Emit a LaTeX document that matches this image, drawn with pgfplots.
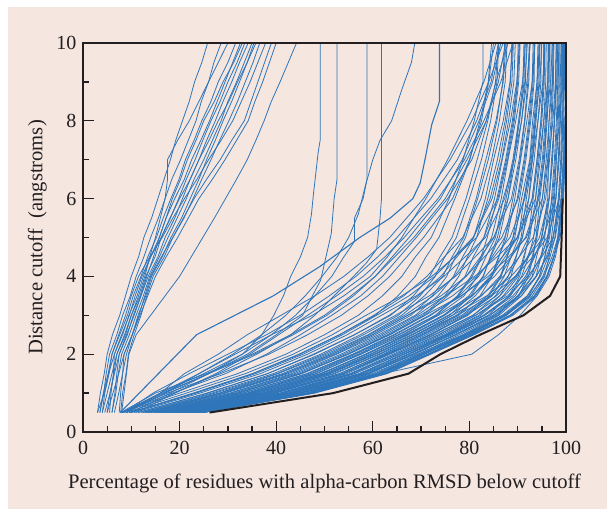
\documentclass[border=0pt]{standalone}
\usepackage{fontspec}
\setmainfont{Liberation Serif}
\usepackage{pgfplots}
\usepackage{pgfplotstable}
\pgfplotsset{compat=1.18}

\definecolor{bgpink}{RGB}{245,230,224}
\definecolor{cblue}{RGB}{46,117,186}
\definecolor{axblack}{RGB}{35,31,32}
\pgfplotsset{gdt/.style={cblue, solid, line width=0.8pt, no marks}}

% first row: distance cutoffs; each further row: one model (percent below cutoff)
\pgfplotstableread{
0.5 1 1.5 2 2.5 3 3.5 4 4.5 5 6 7 8 9 10
25.0 48.0 63.0 72.0 81.0 89.0 94.0 96.5 97.8 98.6 99.3 99.7 99.9 100 100
24.5 47.6 61.8 71.4 80.1 87.6 93.0 95.6 96.5 97.0 97.9 98.6 98.8 99.2 99.2
24.0 46.3 61.1 70.2 79.1 87.1 92.5 95.4 97.1 98.3 99.3 99.7 99.9 100 100
23.5 45.2 60.5 69.3 78.6 86.1 90.8 93.8 94.8 95.6 96.5 97.0 97.6 98.1 98.3
23.0 44.6 59.3 68.4 77.3 85.2 90.7 93.9 95.9 97.3 98.6 99.1 99.3 99.5 99.5
22.5 43.5 58.8 67.5 76.0 84.2 89.5 91.9 93.0 94.0 95.1 96.2 96.5 97.2 97.4
21.9 43.0 57.4 66.6 75.4 83.2 89.0 92.5 94.7 96.4 97.9 98.4 98.8 99.0 99.0
21.4 42.4 56.2 65.7 74.8 82.3 87.0 90.1 91.2 92.5 93.7 94.4 95.4 96.2 96.6
20.9 41.3 55.6 64.8 73.6 81.3 87.3 91.0 93.4 95.4 97.2 97.8 98.2 98.4 98.5
20.4 40.8 54.6 63.5 72.6 80.8 85.4 88.0 89.6 91.0 92.3 93.0 94.2 95.2 95.6
19.9 39.6 53.7 63.0 71.7 79.4 85.6 89.5 92.2 94.5 96.5 97.2 97.6 97.9 98.0
19.4 38.5 53.2 62.1 70.5 78.4 83.8 86.4 87.8 89.4 90.8 92.5 93.1 94.0 94.6
18.9 37.9 51.8 61.2 69.8 77.5 84.6 89.5 93.1 96.1 98.6 99.1 99.3 99.5 99.5
18.4 37.4 50.6 60.3 69.2 76.5 81.2 84.6 86.0 87.8 89.4 90.6 91.9 93.0 93.6
17.9 36.2 50.0 59.4 68.0 75.6 82.3 87.0 90.3 93.2 95.8 96.6 97.1 97.4 97.5
17.4 35.0 49.4 58.5 66.8 74.6 79.9 82.8 84.4 86.2 88.0 89.2 90.8 91.9 92.6
16.8 34.6 48.1 57.6 66.1 73.6 80.4 85.2 88.6 91.6 94.4 95.3 95.9 96.3 96.4
16.3 34.0 47.2 56.4 65.2 73.0 77.7 80.6 82.6 84.6 86.6 88.0 89.6 91.0 91.6
15.8 32.9 46.3 55.8 64.3 71.7 78.4 83.3 86.8 90.0 93.0 94.0 94.8 95.3 95.4
15.3 32.3 45.0 54.9 63.6 70.8 75.5 79.1 80.8 83.0 85.2 86.8 88.5 89.8 90.4
14.8 31.2 44.4 54.0 62.4 69.8 76.5 81.5 85.1 88.4 91.5 92.8 93.6 94.2 94.4
14.1 30.4 43.2 52.5 61.2 68.8 73.5 76.7 78.6 80.9 83.3 85.0 87.0 88.4 89.0
13.4 29.0 41.9 51.6 59.9 67.2 74.1 79.3 83.1 86.7 90.1 91.5 92.5 93.2 93.4
12.8 28.1 40.4 50.4 59.0 66.0 70.7 74.5 76.4 78.8 81.4 83.4 85.5 87.0 87.6
12.1 26.7 39.4 49.2 57.4 64.7 71.7 77.1 81.2 85.0 88.7 90.3 91.4 92.1 92.4
11.4 25.9 38.2 47.7 56.2 63.7 68.4 71.8 73.9 76.4 79.3 81.6 83.8 85.4 86.0
10.6 24.2 36.7 46.5 54.7 61.8 69.0 74.7 79.1 83.3 87.3 89.0 90.2 91.1 91.3
9.7 23.1 35.1 44.7 53.1 60.5 65.2 68.8 71.0 73.7 77.0 80.1 82.2 83.9 84.6
8.9 21.4 33.6 43.5 51.6 58.6 66.0 72.2 76.9 81.5 85.9 87.7 89.1 90.0 90.3
8.0 20.0 32.0 42.0 50.0 57.0 62.0 66.0 68.8 72.1 75.8 78.7 81.0 82.8 82.8
24.8 47.0 62.4 71.6 80.4 88.4 93.4 96.0 97.4 98.8 99.5 99.8 100 100 100
23.8 46.6 61.4 70.0 79.4 87.4 92.0 94.5 95.6 96.6 97.6 98.0 98.6 98.8 99.0
22.6 44.9 59.0 68.8 77.0 85.5 90.0 93.0 93.9 94.9 96.2 96.4 97.3 97.8 98.0
22.2 42.7 57.7 66.3 75.7 83.0 88.5 90.8 92.2 93.3 94.2 95.6 95.9 96.8 97.2
20.9 41.3 55.6 64.8 73.6 81.3 87.9 92.1 95.0 97.3 99.0 99.5 99.8 100 100
20.2 39.3 54.0 62.7 72.0 79.2 84.7 87.2 88.6 90.2 91.3 93.1 93.6 94.6 95.0
18.4 37.1 50.9 60.3 68.9 76.5 83.6 88.6 92.2 95.3 97.9 98.4 98.8 99.0 99.0
17.1 34.3 48.4 57.3 66.4 73.3 78.9 81.6 83.4 85.4 87.0 89.3 90.2 91.5 92.0
15.3 32.0 45.3 54.9 63.3 70.8 78.3 83.9 88.1 91.8 95.1 95.9 96.5 96.9 96.9
13.4 29.0 41.9 51.6 59.9 67.2 75.1 81.1 85.7 89.9 93.7 94.7 95.4 95.8 95.9
11.4 25.6 38.2 48.0 56.2 63.4 69.4 74.1 77.4 80.8 84.3 86.3 87.7 88.8 89.1
9.7 22.8 35.1 45.0 53.1 60.2 66.4 71.2 74.8 78.6 82.4 84.6 86.2 87.4 87.8
22.5 43.8 58.4 67.5 76.4 84.2 90.2 93.8 96.1 97.8 99.0 99.5 99.8 100 100
17.4 35.4 49.1 58.5 67.1 74.6 80.6 84.6 87.4 89.9 92.3 93.4 94.2 94.8 94.9
7.9 17.5 28.5 38.5 46.5 53.5 59.0 63.5 67.0 70.5 76.5 80.0 82.5 84.0 85.0
7.8 15.0 25.5 35.0 43.0 50.0 55.5 60.5 64.5 68.5 75.0 79.5 83.5 86.0 87.5
8.5 14.5 22.0 30.0 38.0 45.0 51.0 56.5 61.0 65.0 72.0 77.5 81.5 84.5 86.0
9.0 16.0 21.0 28.0 34.0 41.0 48.0 54.0 59.0 63.5 70.5 76.0 80.5 84.0 87.0
20.0 45.0 62.0 80.5 86.0 90.5 94.0 96.0 97.5 98.5 99.2 99.6 99.8 100 100
24.8 47.7 62.7 71.7 80.7 88.7 93.7 96.2 97.5 98.3 99.0 99.4 99.5 99.7 99.7
24.3 46.9 61.8 70.8 79.8 87.7 92.3 94.5 95.6 96.3 97.0 97.6 98.0 98.3 98.3
23.8 46.0 60.8 69.9 78.8 86.8 92.0 94.7 96.3 97.4 98.4 98.9 99.1 99.3 99.3
23.3 45.2 59.9 69.4 77.9 85.8 90.2 92.2 93.2 93.8 94.6 95.5 96.1 96.5 96.6
22.8 44.4 59.0 68.1 77.0 84.8 90.2 93.1 94.9 96.2 97.4 98.0 98.4 98.6 98.6
22.3 43.5 58.0 67.2 75.6 83.9 88.2 90.4 91.4 92.2 93.2 94.2 95.0 95.5 95.6
21.8 42.7 57.1 66.3 75.1 82.9 88.4 91.6 93.5 95.0 96.5 97.2 97.6 97.9 98.0
21.3 41.8 56.2 65.4 74.2 82.0 86.3 88.6 89.7 90.7 91.8 93.0 93.8 94.4 94.6
20.6 40.7 55.3 64.2 72.9 80.7 86.3 89.8 92.0 93.8 95.5 96.3 96.9 97.2 97.3
20.1 39.9 54.0 63.3 72.0 79.7 84.1 86.6 87.8 89.0 90.4 91.7 92.7 93.4 93.5
19.6 39.0 53.1 62.4 71.1 78.8 84.4 88.0 90.3 92.2 94.1 95.1 95.7 96.2 96.3
19.1 38.2 52.2 61.5 70.2 77.8 82.2 84.7 86.1 87.4 89.0 90.5 91.5 92.3 92.5
18.5 37.4 51.2 60.6 69.2 77.3 82.5 86.3 88.7 90.9 93.0 94.0 94.8 95.3 95.4
18.0 36.5 50.3 59.7 68.3 75.9 80.3 82.9 84.3 85.8 87.6 89.2 90.4 91.3 91.5
17.5 35.7 49.4 58.8 67.4 74.9 80.6 84.3 86.8 89.1 91.3 92.6 93.4 94.0 94.2
16.5 34.0 47.5 57.0 65.5 73.0 77.5 80.3 82.4 83.7 85.7 87.5 88.9 89.9 90.1
16.0 33.2 46.6 56.1 64.6 72.0 77.9 81.9 84.7 87.3 89.9 91.3 92.3 93.0 93.2
15.1 31.8 45.0 54.6 63.0 70.4 74.9 77.8 79.6 81.5 83.8 85.8 87.4 88.5 88.8
14.5 30.6 43.8 53.4 61.8 69.2 75.1 79.3 82.3 85.1 88.0 89.6 90.8 91.6 91.8
13.8 29.5 42.5 52.2 60.5 67.9 72.3 75.3 77.1 79.2 81.7 83.9 85.7 86.9 87.3
13.1 28.4 41.3 51.0 59.3 66.6 72.5 76.9 79.9 83.0 86.1 87.9 89.3 90.2 90.5
12.4 27.3 40.1 49.8 58.1 65.3 69.8 72.9 74.9 77.3 80.0 82.5 84.4 85.7 86.1
10.0 23.4 35.7 45.6 53.7 60.8 67.5 72.8 76.8 80.8 84.7 86.7 88.1 89.2 89.5
24.7 47.4 62.4 71.4 80.4 88.4 93.5 96.1 97.5 98.4 99.4 99.8 100 100 100
24.2 46.6 61.5 70.5 79.5 87.4 92.6 95.2 96.7 97.7 98.6 99.1 99.3 99.5 99.5
8.2 16.5 26.0 35.5 43.5 50.5 56.0 60.5 64.0 67.5 74.0 78.5 82.0 84.8 86.5
8.0 18.5 29.5 38.0 45.0 51.5 57.5 62.0 65.5 69.0 75.5 80.5 83.5 85.5 88.0
9.5 19.0 27.5 34.5 40.5 46.5 52.5 58.0 62.5 66.5 73.5 79.0 83.0 86.5 89.0
8.8 17.0 24.0 31.5 39.0 47.5 54.0 59.5 63.0 66.0 71.0 75.5 79.5 83.0 85.5
}\bundleraw
\pgfplotstabletranspose{\bundle}{\bundleraw}

% steep group on the left
\pgfplotstableread{
0.5 1 1.5 2 2.5 3 3.5 4 4.5 5 5.5 6 6.5 7 7.5 8 8.5 9 9.5 10
3.0 3.6 4.4 5.0 6.1 7.6 8.8 10.0 11.5 12.6 14.2 15.5 16.8 18.1 19.2 20.6 22.0 23.1 24.6 25.8
3.5 4.3 4.8 5.5 7.0 8.2 9.8 11.0 12.6 14.0 15.6 17.0 18.4 20.2 21.8 23.4 24.5 26.0 27.1 28.6
4.0 4.5 5.4 6.0 7.6 9.2 10.4 12.0 13.4 15.2 16.6 18.2 19.9 21.2 23.0 24.6 26.5 28.0 30.0 31.6
3.0 4.4 5.3 6.5 8.2 9.5 11.2 12.5 14.0 15.8 17.2 19.0 21.0 22.5 24.4 26.2 27.8 29.4 31.0 32.6
5.0 5.6 6.4 7.0 8.8 10.0 11.8 13.0 14.9 16.2 18.1 19.8 21.4 23.2 24.8 26.5 28.4 30.0 31.9 33.5
4.5 5.6 6.5 7.5 9.0 10.6 12.0 13.5 15.5 17.0 19.0 20.6 22.2 24.0 25.6 27.4 29.0 30.8 32.4 34.2
6.0 6.8 7.3 8.0 9.6 11.0 12.5 13.8 15.8 17.6 19.5 21.4 23.0 25.0 26.8 28.6 30.0 31.8 33.4 35.0
7.5 7.8 8.2 8.5 10.2 11.4 13.0 14.2 16.4 18.2 20.4 22.2 24.0 25.6 27.4 29.0 30.8 32.4 34.0 35.4
5.5 5.8 6.3 6.5 8.0 9.6 10.8 12.2 14.0 16.2 18.0 20.0 22.2 24.0 26.1 28.0 30.2 32.0 34.0 35.8
7.8 8.2 8.9 9.4 10.6 12.0 13.2 14.5 16.8 18.6 20.9 22.8 24.6 26.5 28.3 30.2 32.0 33.6 35.2 36.6
3.5 4.2 5.2 6.0 7.4 8.8 10.0 11.5 13.8 16.4 18.6 21.0 23.6 26.0 28.6 31.0 32.8 34.6 36.2 37.8
6.5 7.4 8.2 9.0 10.2 11.6 12.8 14.0 16.2 18.6 20.8 23.0 25.6 28.4 30.8 33.4 34.8 36.2 37.6 39.0
8.0 8.5 9.0 9.5 11.0 14.0 17.0 20.0 22.4 24.8 27.2 29.5 31.8 34.0 35.8 37.5 39.0 40.8 42.5 44.2
4.0 5.0 6.0 7.0 8.6 10.0 11.5 12.8 13.8 15.0 16.0 17.0 17.5 17.5 19.6 22.0 24.0 26.0 28.0 30.0
6.0 6.6 7.0 7.5 9.2 10.4 12.0 13.2 14.6 15.8 17.2 18.5 20.2 21.6 23.4 25.0 27.2 29.0 31.2 33.0
5.0 6.2 7.4 8.5 10.2 11.8 13.4 15.0 17.2 19.6 21.8 24.0 26.8 29.4 31.8 34.2 35.6 37.2 38.6 40.0
}\leftraw
\pgfplotstabletranspose{\leftgrp}{\leftraw}

\begin{document}
\begin{tikzpicture}
\fill[white] (0,0) rectangle (607pt,509pt);
\fill[bgpink] (8pt,0) rectangle (607pt,502pt);
\begin{axis}[
    at={(83pt,77pt)}, anchor=south west,
    width=483pt, height=389pt, scale only axis,
    xmin=0, xmax=100, ymin=0, ymax=10,
    axis on top,
    axis line style={axblack, line width=2.3pt},
    xtick={0,20,...,100}, ytick={0,2,...,10},
    minor xtick={5,10,15,25,30,35,45,50,55,65,70,75,85,90,95},
    minor ytick={1,3,5,7,9},
    tick align=inside, tick pos=left,
    major tick length=11pt, minor tick length=6pt,
    tick style={axblack, line width=1.3pt},
    /pgf/number format/assume math mode=true,
    ticklabel style={font=\fontsize{20}{23}\selectfont, text=axblack},
    xticklabel style={yshift=-6pt},
    yticklabel style={xshift=-3pt},
    xlabel={Percentage of residues with alpha-carbon RMSD below cutoff},
    xlabel style={at={(axis description cs:0.5,-0.144)}, anchor=base,
        font=\fontsize{20.6}{24}\selectfont, text=axblack},
    ylabel={Distance cutoff\ \ (angstroms)},
    ylabel style={at={(axis description cs:-0.084,0.5)}, anchor=base,
        font=\fontsize{20.6}{24}\selectfont, text=axblack},
]
\pgfplotsinvokeforeach{1,...,16}{
  \addplot[gdt] table[x=#1, y=0] {\leftgrp};
}
\pgfplotsinvokeforeach{1,...,78}{
  \addplot[gdt] table[x=#1, y=0] {\bundle};
}
% the scattered models in the middle
\addplot[gdt, line width=1.1pt] coordinates {(7.7,0.5) (23.5,2.5) (39.4,3.5) (49,4.25) (57.3,5.0) (63.6,5.5) (68.3,6.0) (69.8,6.4) (70.8,7.0) (72.2,7.9) (73.8,8.5) (73.8,10)};
\addplot[gdt] coordinates {(8,0.5) (16,1) (25,1.5) (33,2) (37,2.5) (39.5,3) (41.5,3.5) (43,4) (45,4.5) (46.5,5) (47.3,5.6) (47.7,6.1) (48.7,7.2) (49.1,7.5) (49.1,10)};
\addplot[gdt] coordinates {(9,0.5) (17,1) (26,1.5) (34,2) (40,2.5) (45.5,3) (47.5,3.5) (49.2,3.9) (50.3,4.5) (51.4,5.1) (52,6) (52.6,6.5) (52.6,10)};
\addplot[gdt] coordinates {(10,0.5) (18,1) (26,1.5) (33,2) (39,2.5) (44,3) (48,3.5) (51.5,4) (54,4.5) (56.2,4.9) (56.2,5.5) (58,6) (58.8,6.5) (58.8,10)};
\addplot[gdt] coordinates {(11,0.5) (19,1) (28,1.5) (36,2) (43,2.5) (48,3) (52,3.5) (56,4) (58.7,4.35) (60.8,4.7) (61.5,5.5) (61.8,6) (61.8,10)};
\addplot[gdt] coordinates {(9,0.5) (16,1) (24,1.5) (31,2) (37,2.5) (42,3) (46,3.5) (49.5,4) (52.6,4.5) (55,5) (57,5.6) (58.4,6.3) (60,7) (61.5,7.5) (63.9,8) (66,8.8) (68,9.5) (68.7,10)};
% reference curve
\addplot[axblack, solid, no marks, line width=2pt] coordinates {(26.2,0.5) (51.8,1) (67.4,1.5) (74,2) (82.2,2.5) (91.2,3) (96.7,3.5) (98.8,4) (99.1,5) (99.3,6)};
\end{axis}
\end{tikzpicture}
\end{document}
